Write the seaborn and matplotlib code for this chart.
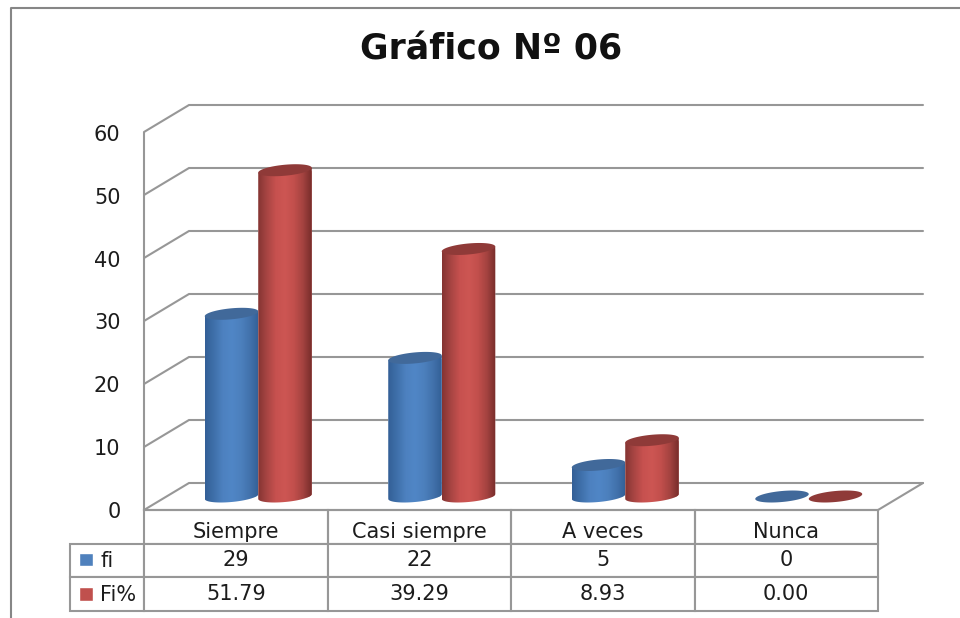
import numpy as np
import pandas as pd
import matplotlib
matplotlib.use("Agg")
import matplotlib.pyplot as plt
import seaborn as sns
from matplotlib.colors import LinearSegmentedColormap
from matplotlib.lines import Line2D
from matplotlib.patches import Patch, Polygon

# Survey results
categories = ["Siempre", "Casi siempre", "A veces", "Nunca"]
fi = [29, 22, 5, 0]
fi_pct = [51.79, 39.29, 8.93, 0.00]
y_ticks = [0, 10, 20, 30, 40, 50, 60]
title = "Gráfico Nº 06"

W, H = 960, 618
GRID = "#979797"
TEXT = "#1c1c1c"
FS = 15

sns.set_theme(style="white")
plt.rcParams["font.family"] = ["DejaVu Sans"]

fig = plt.figure(figsize=(W / 100, H / 100), dpi=100, facecolor="white")


def axes_at(left, top, right, bottom):
    return fig.add_axes([left / W, 1 - bottom / H, (right - left) / W, (bottom - top) / H])


# Front plane carries the value axis, the category labels and the data table
ax_front = axes_at(144, 133, 878, 510)
ax_front.set_xlim(-0.5, 3.5)
ax_front.set_ylim(0, 60)
ax_front.set_xticks(range(len(categories)), categories)
ax_front.set_yticks(y_ticks)
ax_front.tick_params(axis="y", length=0, pad=17, labelsize=FS, labelcolor=TEXT)
ax_front.tick_params(axis="x", length=0, pad=9, labelsize=FS, labelcolor=TEXT)
for side, spine in ax_front.spines.items():
    spine.set_visible(side in ("left", "bottom"))
    spine.set_color(GRID)
    spine.set_linewidth(1.5)

# Mid-depth plane carries the cylinders; the room below zero holds their rounded bases
ax_bars = axes_at(166.5, 118.5, 900.5, 496.5 + 2 * 6.3)
ax_bars.set_zorder(2)
ax_bars.patch.set_visible(False)

data = pd.DataFrame({
    "categoria": categories * 2,
    "serie": ["fi"] * 4 + ["Fi%"] * 4,
    "valor": fi + fi_pct,
})
palette = {"fi": "#4f81bd", "Fi%": "#c0504d"}
sns.barplot(data=data, x="categoria", y="valor", hue="serie", order=categories,
            hue_order=["fi", "Fi%"], palette=palette, width=0.583, gap=0,
            saturation=1, legend=False, ax=ax_bars)
ax_bars.set_xlim(-0.5, 3.5)
ax_bars.set_ylim(-2, 60)
ax_bars.axis("off")

# Depth of the chart box, expressed in data units of the mid plane
dx = 22.5 / 183.5
dy = 13.5 / 6.3

# Back wall gridlines with their diagonals down the side wall
for v in y_ticks:
    ax_bars.plot([-0.5 - dx, -0.5 + dx, 3.5 + dx], [v - dy, v + dy, v + dy],
                 color=GRID, lw=1.5, clip_on=False, zorder=0, solid_joinstyle="miter")
# Right edge of the floor
ax_bars.plot([3.5 - dx, 3.5 + dx], [-dy, dy], color=GRID, lw=1.5, clip_on=False, zorder=0)

shades = {
    "fi": LinearSegmentedColormap.from_list("azul", ["#335f96", "#3f70aa", "#4d81c0", "#5086c6",
                                                     "#4c80bd", "#4272ac", "#335f96"]),
    "Fi%": LinearSegmentedColormap.from_list("rojo", ["#843432", "#a84543", "#c7514f", "#cd5653",
                                                      "#c24f4c", "#a44340", "#762c2a"]),
}
caps = {"fi": "#41699a", "Fi%": "#8f3a38"}
series_names = ["fi"] * 4 + ["Fi%"] * 4

half_h = 5.5 / 6.3
tilt = 2.4 / 6.3
t = np.linspace(0, 2 * np.pi, 120)
ramp = np.linspace(0, 1, 256)[None, :]

for i, (bar, name) in enumerate(zip(ax_bars.patches, series_names)):
    x0, w, v = bar.get_x(), bar.get_width(), bar.get_height()
    cx = x0 + w / 2
    ex = cx + w / 2 * np.cos(t)
    off = half_h * np.sin(t) + tilt * np.cos(t)
    z = 3 + 2 * i
    bar.set_zorder(z)
    if v > 0:
        # Side of the cylinder: top edge straight across, rounded bottom
        lower = np.sin(t) <= 0
        order = np.argsort(ex[lower])
        side_x = np.r_[ex[lower][order], cx + w / 2, cx - w / 2]
        side_y = np.r_[off[lower][order], v + tilt, v - tilt]
        body = Polygon(np.c_[side_x, side_y], closed=True, transform=ax_bars.transData,
                       facecolor="none", edgecolor="none", clip_on=False)
        ax_bars.add_patch(body)
        bar.set_clip_path(body)
        im = ax_bars.imshow(ramp, extent=[x0, x0 + w, -2, v + 2 * half_h],
                            aspect="auto", cmap=shades[name], interpolation="bilinear",
                            zorder=z + 0.1)
        im.set_clip_path(body)
    else:
        bar.set_visible(False)
    ax_bars.fill(ex, v + off, color=caps[name], lw=0, zorder=z + 0.5, clip_on=False)

ax_bars.set_xlim(-0.5, 3.5)
ax_bars.set_ylim(-2, 60)

# Data table under the front plane; its header row frames the category labels
table_h = (611 - 510) / 377
rows = [[f"{v:d}" for v in fi], [f"{v:.2f}" for v in fi_pct]]
tbl = ax_front.table(cellText=rows, colLabels=[""] * len(categories), rowLabels=["", ""],
                     cellLoc="center", bbox=[0, -table_h, 1, table_h], zorder=1)
tbl.auto_set_font_size(False)
tbl.set_fontsize(FS)
for (r, c), cell in tbl.get_celld().items():
    cell.set_edgecolor(GRID)
    cell.set_linewidth(1.5)
    cell.set_text_props(color=TEXT)
    if r == 0:
        cell.set_facecolor("none")
    if c == -1:
        cell.set_width(0.25 * 74 / 183.5)
tbl._autoColumns = []

# Series key sits inside the table's label column
handles = [Patch(facecolor=palette["fi"], label="fi"), Patch(facecolor=palette["Fi%"], label="Fi%")]
ax_front.legend(handles=handles, loc="upper left",
                bbox_to_anchor=((79 - 144) / 734, -(551 - 510) / 377),
                frameon=False, fontsize=FS, handlelength=0.68, handleheight=0.62,
                handletextpad=0.35, labelspacing=0.68, borderpad=0, borderaxespad=0,
                labelcolor=TEXT).set_zorder(6)

fig.suptitle(title, x=491 / W, y=1 - 50 / H, va="center", ha="center",
             fontsize=25, fontweight="bold", color="#111111", family="DejaVu Sans")

# Chart area border
fig.add_artist(Line2D([11 / W, 11 / W, 1], [0, 1 - 8 / H, 1 - 8 / H],
                      color="#868686", lw=1.5, transform=fig.transFigure))

fig.savefig("out.png", dpi=100, facecolor="white")
